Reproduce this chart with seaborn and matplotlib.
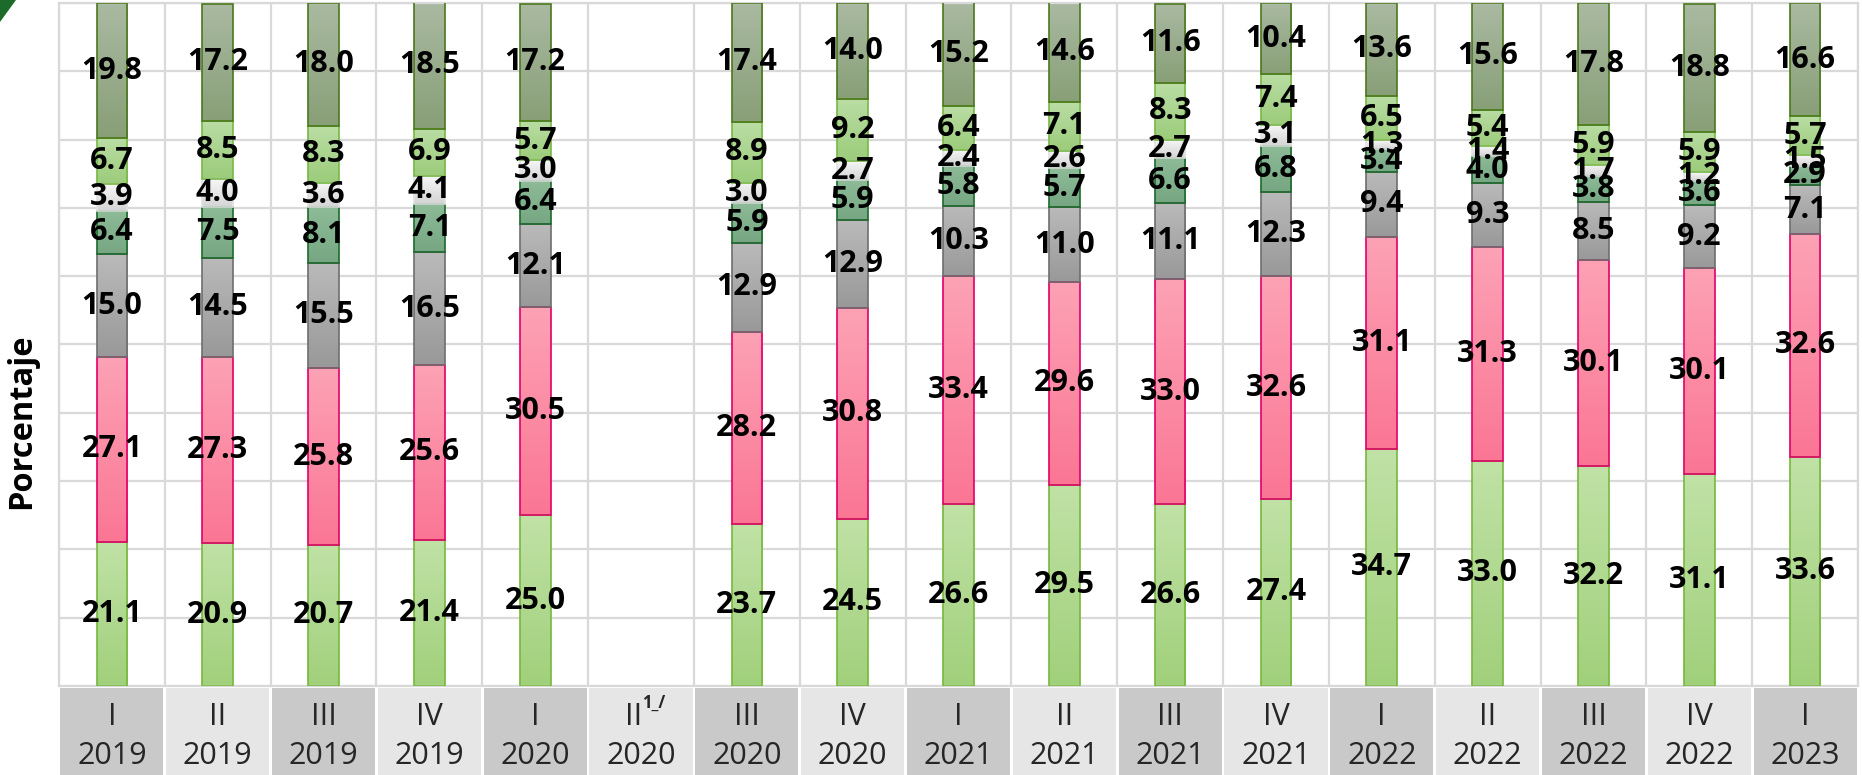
import numpy as np
import matplotlib
matplotlib.use("Agg")
import matplotlib.pyplot as plt
import matplotlib.transforms as mtransforms
from matplotlib.patches import Rectangle, Polygon
from matplotlib.colors import LinearSegmentedColormap
import seaborn as sns

sns.set_style("white")
plt.rcParams['font.family'] = ['Open Sans', 'DejaVu Sans']

# quarters / years shown in the tick boxes
quarters = ["I", "II", "III", "IV", "I", "II", "III", "IV", "I",
            "II", "III", "IV", "I", "II", "III", "IV", "I"]
years = ["2019", "2019", "2019", "2019", "2020", "2020", "2020", "2020", "2021",
         "2021", "2021", "2021", "2022", "2022", "2022", "2022", "2023"]

# stacked segments, bottom to top (II 2020 has no data)
seg1 = [21.1, 20.9, 20.7, 21.4, 25.0, np.nan, 23.7, 24.5, 26.6, 29.5, 26.6, 27.4, 34.7, 33.0, 32.2, 31.1, 33.6]
seg2 = [27.1, 27.3, 25.8, 25.6, 30.5, np.nan, 28.2, 30.8, 33.4, 29.6, 33.0, 32.6, 31.1, 31.3, 30.1, 30.1, 32.6]
seg3 = [15.0, 14.5, 15.5, 16.5, 12.1, np.nan, 12.9, 12.9, 10.3, 11.0, 11.1, 12.3, 9.4, 9.3, 8.5, 9.2, 7.1]
seg4 = [6.4, 7.5, 8.1, 7.1, 6.4, np.nan, 5.9, 5.9, 5.8, 5.7, 6.6, 6.8, 3.4, 4.0, 3.8, 3.6, 2.9]
seg5 = [3.9, 4.0, 3.6, 4.1, 3.0, np.nan, 3.0, 2.7, 2.4, 2.6, 2.7, 3.1, 1.3, 1.4, 1.7, 1.2, 1.5]
seg6 = [6.7, 8.5, 8.3, 6.9, 5.7, np.nan, 8.9, 9.2, 6.4, 7.1, 8.3, 7.4, 6.5, 5.4, 5.9, 5.9, 5.7]
seg7 = [19.8, 17.2, 18.0, 18.5, 17.2, np.nan, 17.4, 14.0, 15.2, 14.6, 11.6, 10.4, 13.6, 15.6, 17.8, 18.8, 16.6]

layers = [seg1, seg2, seg3, seg4, seg5, seg6, seg7]
# (gradient top, gradient bottom, edge)
styles = [("#c0e2a6", "#a1d07b", "#76b83c"),
          ("#fda2b5", "#fa7694", "#e2006a"),
          ("#bababa", "#999999", "#6e6e6e"),
          ("#8ebb98", "#76a782", "#1c6a2c"),
          ("#f7f7f7", "#d4d4d4", "#e2e2e2"),
          ("#badda4", "#9ccc7b", "#78b846"),
          ("#aabaa2", "#889f77", "#4b781c")]

cats = [f"{q}\n{y}" for q, y in zip(quarters, years)]
grid_col = "#d9d9d9"

fig = plt.figure(figsize=(18.62, 7.75), dpi=100)
ax = fig.add_axes([59 / 1862, 89 / 775, 1799 / 1862, 683 / 775])

grad = np.linspace(0, 1, 200).reshape(-1, 1)
bottom = np.zeros(len(cats))
for vals, (c_top, c_bot, edge) in zip(layers, styles):
    n0 = len(ax.patches)
    sns.barplot(x=cats, y=vals, order=cats, width=0.29, color=c_bot, saturation=1,
                edgecolor=edge, linewidth=1.2, errorbar=None, ax=ax, zorder=3)
    cmap = LinearSegmentedColormap.from_list("seg", [c_bot, c_top])
    for p in ax.patches[n0:]:
        i = int(round(p.get_x() + p.get_width() / 2))
        p.set_y(bottom[i])
        p.set_facecolor("none")
        x0, w, h = p.get_x(), p.get_width(), p.get_height()
        ax.imshow(grad, cmap=cmap, extent=[x0, x0 + w, bottom[i], bottom[i] + h],
                  origin="lower", aspect="auto", zorder=2.5, interpolation="bilinear")
    for i, v in enumerate(vals):
        if np.isnan(v):
            continue
        ax.text(i, bottom[i] + v / 2, f"{v:.1f}", ha="center", va="center",
                fontsize=22, fontweight="bold", color="black", zorder=6)
    bottom = bottom + np.nan_to_num(vals)

ax.set_xlim(-0.5, len(cats) - 0.5)
ax.set_ylim(0, 100)
ax.set_yticks(np.arange(0, 101, 10))
ax.set_xticks(np.arange(len(cats) + 1) - 0.5)
ax.set_xticklabels([])
ax.set_yticklabels([])
ax.tick_params(length=0)
ax.set_xlabel("")
ax.set_ylabel("")
ax.grid(True, color=grid_col, linewidth=1.6, zorder=0)
ax.set_axisbelow(True)
for s in ax.spines.values():
    s.set_color(grid_col)
    s.set_linewidth(1.6)

# category boxes under the axis
trans = mtransforms.blended_transform_factory(ax.transData, ax.transAxes)
for i, (q, y) in enumerate(zip(quarters, years)):
    fc = "#c9c9c9" if i % 2 == 0 else "#e6e6e6"
    ax.add_patch(Rectangle((i - 0.487, -0.2), 0.974, 0.197, transform=trans,
                           facecolor=fc, edgecolor="none", clip_on=False))
    if q == "II" and y == "2020":
        ax.text(i - 0.07, -0.046, q, transform=trans, ha="center", va="center", fontsize=22)
        ax.text(i + 0.12, -0.024, "1_/", transform=trans, ha="center", va="center",
                fontsize=12, fontweight="bold")
    else:
        ax.text(i, -0.046, q, transform=trans, ha="center", va="center", fontsize=22)
    ax.text(i, -0.102, y, transform=trans, ha="center", va="center", fontsize=22)

fig.text(22 / 1862, 1 - 421 / 775, "Porcentaje", rotation=90, ha="center", va="center",
         fontsize=23.5, fontweight="bold", color="black")

# green corner mark
fig.patches.append(Polygon([[0, 1], [16 / 1862, 1], [0, 1 - 22 / 775]], closed=True,
                           transform=fig.transFigure, facecolor="#1c6b2b", edgecolor="none"))

fig.savefig("out.png", dpi=100)
